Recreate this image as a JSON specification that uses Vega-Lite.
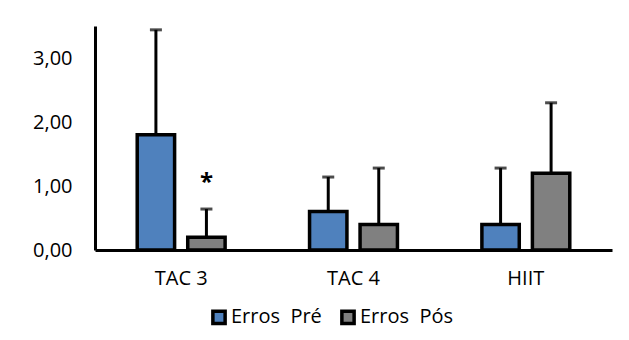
{
  "$schema": "https://vega.github.io/schema/vega-lite/v6.json",
  "autosize": "none",
  "width": 517,
  "height": 224,
  "padding": {"left": 95, "top": 26, "right": 17, "bottom": 90},
  "background": "white",
  "config": {"view": {"stroke": null}, "font": "Open Sans", "legend": {"symbolStrokeColor": "black", "symbolStrokeWidth": 3.5}},
  "data": {"values": [
    {"grupo": "TAC 3", "serie": "Erros\u00a0 Pré", "valor": 1.8, "sup": 3.44, "sig": ""},
    {"grupo": "TAC 3", "serie": "Erros\u00a0 Pós", "valor": 0.2, "sup": 0.64, "sig": "*"},
    {"grupo": "TAC 4", "serie": "Erros\u00a0 Pré", "valor": 0.6, "sup": 1.14, "sig": ""},
    {"grupo": "TAC 4", "serie": "Erros\u00a0 Pós", "valor": 0.4, "sup": 1.28, "sig": ""},
    {"grupo": "HIIT", "serie": "Erros\u00a0 Pré", "valor": 0.4, "sup": 1.28, "sig": ""},
    {"grupo": "HIIT", "serie": "Erros\u00a0 Pós", "valor": 1.2, "sup": 2.3, "sig": ""}
  ]},
  "encoding": {
    "x": {
      "field": "grupo", "type": "nominal", "sort": ["TAC 3", "TAC 4", "HIIT"],
      "scale": {"paddingInner": 0.49, "paddingOuter": 0.245},
      "axis": {"title": null, "labelAngle": 0, "ticks": false, "domainColor": "black", "domainWidth": 3,
               "labelFontSize": 20, "labelColor": "black", "labelPadding": 18, "labelFont": "Open Sans"}
    },
    "xOffset": {"field": "serie", "type": "nominal", "sort": ["Erros\u00a0 Pré", "Erros\u00a0 Pós"],
                "scale": {"paddingInner": 0.26, "paddingOuter": 0}}
  },
  "layer": [
    {
      "mark": {"type": "bar", "stroke": "black", "strokeWidth": 3.5},
      "encoding": {
        "y": {"field": "valor", "type": "quantitative",
              "scale": {"domain": [0, 3.5], "nice": false},
              "axis": {"title": null, "values": [0, 1, 2, 3], "grid": false, "ticks": false,
                       "domainColor": "black", "domainWidth": 3, "labelFontSize": 20, "labelColor": "black",
                       "labelPadding": 23, "labelFont": "Open Sans",
                       "labelExpr": "replace(format(datum.value, '.2f'), '.', ',')"}},
        "color": {"field": "serie", "type": "nominal",
                  "scale": {"domain": ["Erros\u00a0 Pré", "Erros\u00a0 Pós"], "range": ["#4F81BD", "#808080"]},
                  "legend": {"title": null, "orient": "none", "direction": "horizontal", "legendX": 114, "legendY": 281,
                             "symbolType": "square", "symbolSize": 150,
                             "labelFontSize": 20, "labelColor": "black", "labelFont": "Open Sans", "columnPadding": 12, "labelOffset": 2,
                             "encode": {"symbols": {"enter": {"stroke": {"value": "black"}, "strokeWidth": {"value": 3.5}},
                                                    "update": {"stroke": {"value": "black"}, "strokeWidth": {"value": 3.5}, "opacity": {"value": 1}}}}}}
      }
    },
    {
      "mark": {"type": "rule", "strokeWidth": 3, "color": "black"},
      "encoding": {"y": {"field": "valor", "type": "quantitative"}, "y2": {"field": "sup"}}
    },
    {
      "mark": {"type": "tick", "orient": "horizontal", "thickness": 3, "size": 12, "color": "black"},
      "encoding": {"y": {"field": "sup", "type": "quantitative"}}
    },
    {
      "transform": [{"filter": "datum.sig != ''"}],
      "mark": {"type": "text", "fontSize": 24, "fontWeight": "bold", "dy": -26, "color": "black", "baseline": "middle"},
      "encoding": {"y": {"field": "sup", "type": "quantitative"}, "text": {"field": "sig"}}
    }
  ]
}
